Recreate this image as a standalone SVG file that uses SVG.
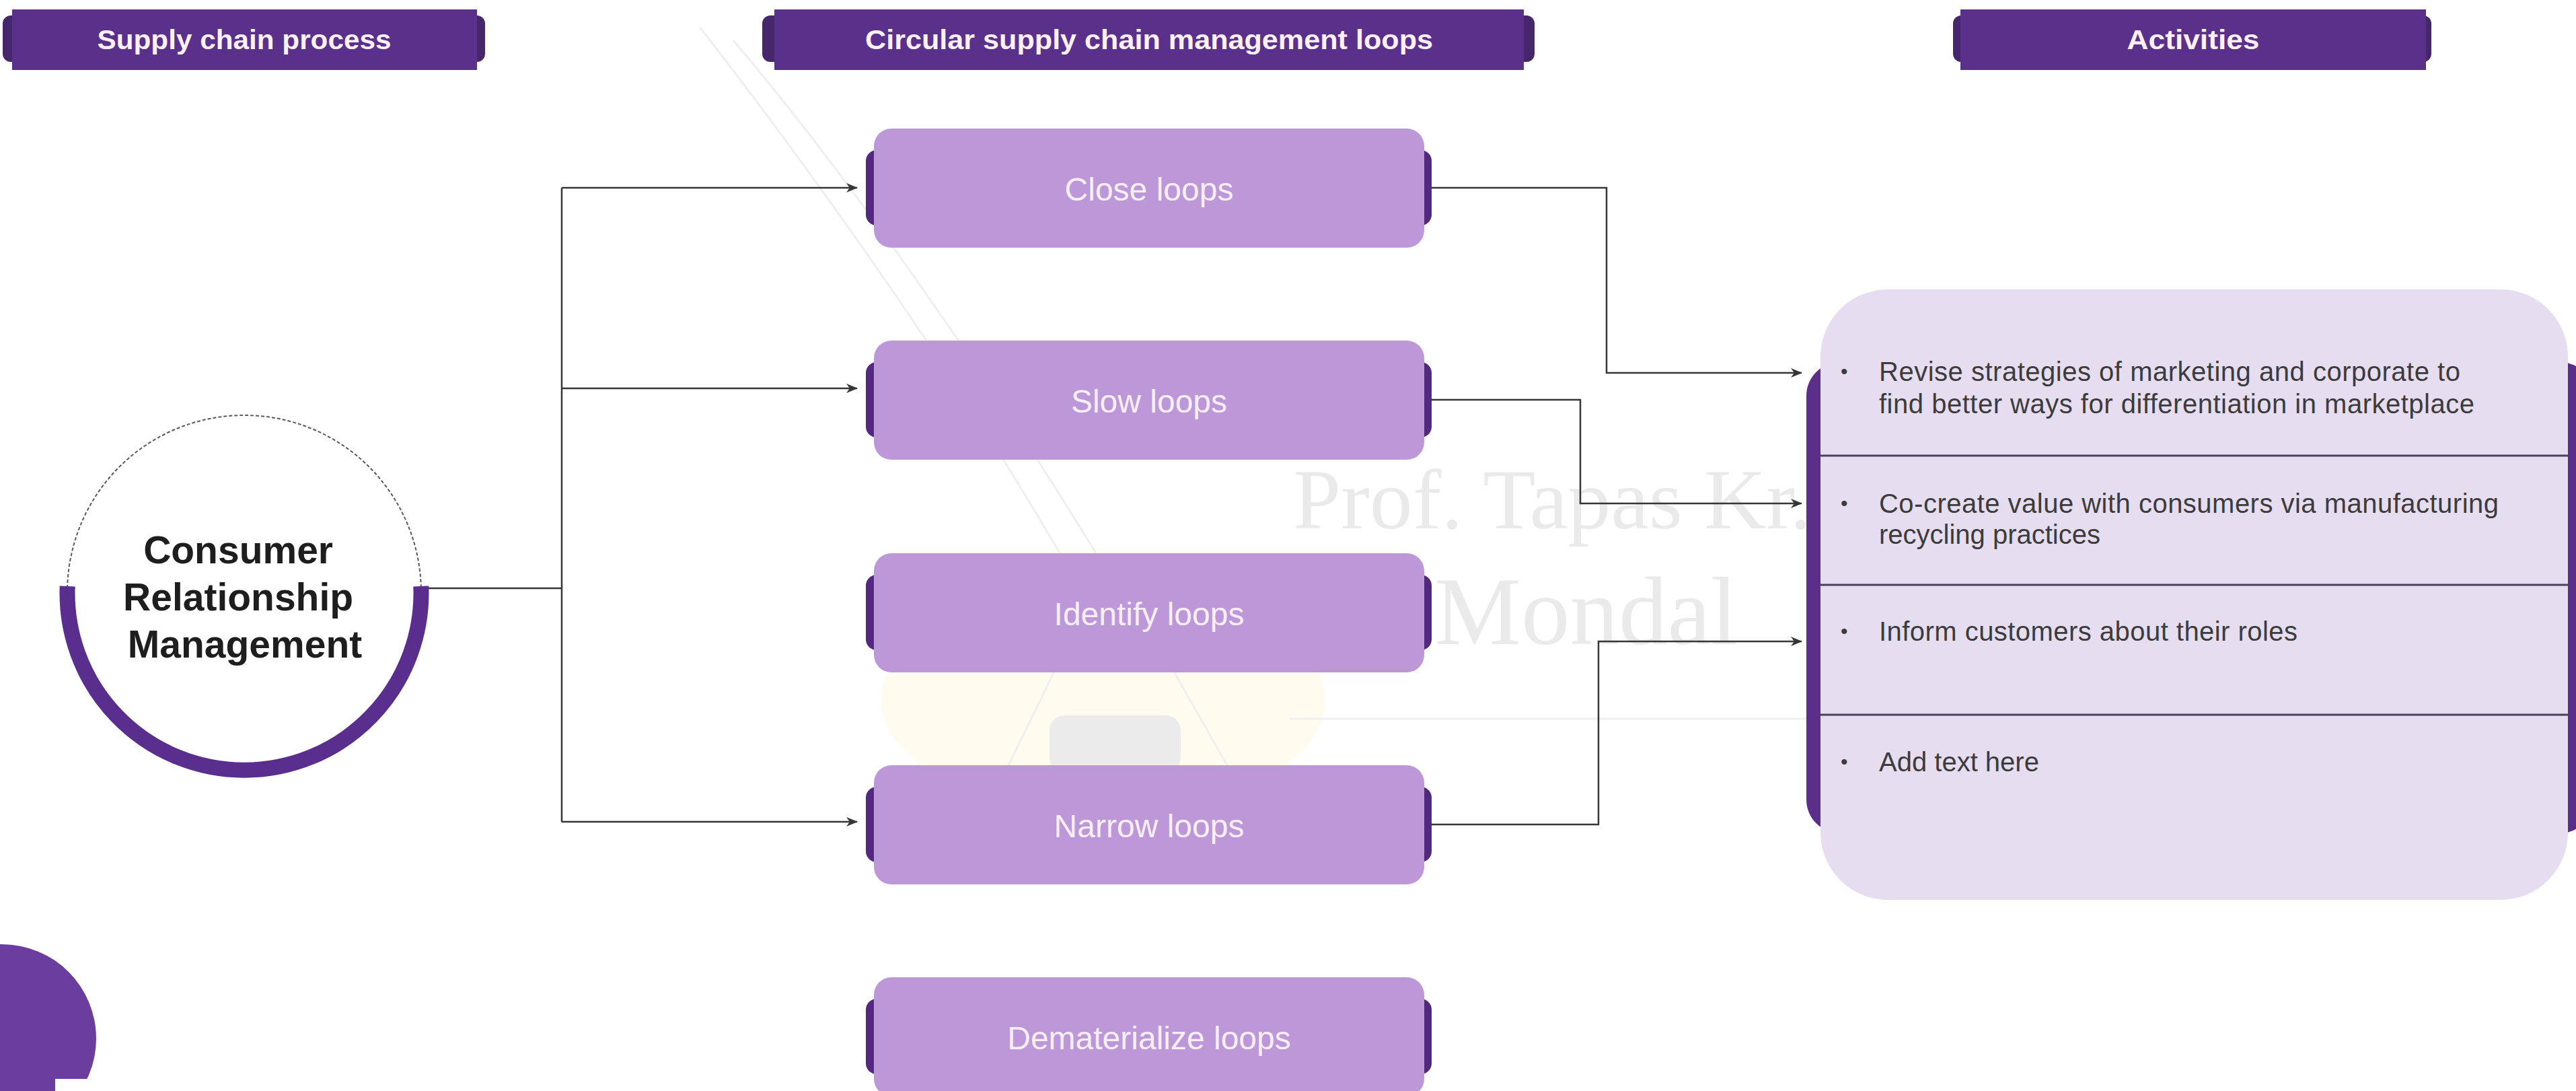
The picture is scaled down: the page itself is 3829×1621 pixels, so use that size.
<svg xmlns="http://www.w3.org/2000/svg" width="3829" height="1621" viewBox="0 0 3829 1621">
<style>
.hcap{fill:#46276c}
.hbar{fill:#59308a}
.htxt{font-family:"Liberation Sans",Arial,sans-serif;font-weight:bold;font-size:40px;fill:#fcf0fb;text-anchor:middle}
.lcap{fill:#53297f}
.lbox{fill:#bc98d9}
.ltxt{font-family:"Liberation Sans",Arial,sans-serif;font-size:48px;fill:#f8eef8;text-anchor:middle}
.atxt{font-family:"Liberation Sans",Arial,sans-serif;font-size:40px;fill:#3c3c3c}
.bul{font-family:"Liberation Sans",Arial,sans-serif;font-size:30px;fill:#3c3c3c}
.conn{fill:none;stroke:#363636;stroke-width:2.5}
.wm{font-family:"Liberation Serif","Times New Roman",serif;fill:#eaeaea}
.wml{fill:none;stroke:#efefef;stroke-width:3}
.div{stroke:#4a3f5e;stroke-width:3}
</style>
<defs>
<marker id="arr" markerUnits="userSpaceOnUse" markerWidth="18" markerHeight="14" refX="16" refY="7" orient="auto">
<path d="M0,0 L17,7 L0,14 L5,7 z" fill="#363636"/>
</marker>
</defs>
<rect x="0" y="0" width="3829" height="1621" fill="#ffffff"/>

<g id="watermark">
<ellipse cx="1640" cy="1040" rx="330" ry="170" fill="#fffbee"/>
<path class="wml" d="M1040,40 C1180,220 1400,520 1580,830"/>
<path class="wml" d="M1090,60 C1260,260 1470,560 1640,840"/>
<path class="wml" d="M1583,965 L1482,1172 Q1660,1200 1844,1172 L1726,965"/>
<rect x="1560" y="1063" width="195" height="85" rx="22" fill="#ebebeb"/>
<line x1="1917" y1="1068" x2="2686" y2="1068" stroke="#f0f0f0" stroke-width="3"/>
<text class="wm" x="1922" y="785" font-size="128">Prof. Tapas Kr.</text>
<text class="wm" x="2132" y="957" font-size="145">Mondal</text>
</g>

<g id="header-supply-chain-process">
<rect class="hcap" x="4" y="23" width="717" height="69" rx="12"/>
<rect class="hbar" x="18" y="14" width="691" height="90"/>
<text class="htxt" x="363" y="73" textLength="437" lengthAdjust="spacingAndGlyphs">Supply chain process</text>
</g>
<g id="header-circular-loops">
<rect class="hcap" x="1133" y="23" width="1148" height="69" rx="12"/>
<rect class="hbar" x="1151" y="14" width="1114" height="90"/>
<text class="htxt" x="1708" y="73" textLength="844" lengthAdjust="spacingAndGlyphs">Circular supply chain management loops</text>
</g>
<g id="header-activities">
<rect class="hcap" x="2903" y="23" width="711" height="69" rx="12"/>
<rect class="hbar" x="2914" y="14" width="692" height="90"/>
<text class="htxt" x="3260" y="73" textLength="197" lengthAdjust="spacingAndGlyphs">Activities</text>
</g>

<g id="connectors">
<path class="conn" d="M637,874 H835"/>
<path class="conn" d="M835,279 V1221"/>
<path class="conn" d="M835,279 H1274" marker-end="url(#arr)"/>
<path class="conn" d="M835,577 H1274" marker-end="url(#arr)"/>
<path class="conn" d="M835,1221 H1274" marker-end="url(#arr)"/>
<path class="conn" d="M2128,279 H2388 V554 H2678" marker-end="url(#arr)"/>
<path class="conn" d="M2128,594 H2349 V748 H2678" marker-end="url(#arr)"/>
<path class="conn" d="M2128,1225 H2376 V953 H2678" marker-end="url(#arr)"/>
</g>

<g id="consumer-relationship-management">
<circle cx="363" cy="880" r="263" fill="#ffffff" stroke="#5a5a5a" stroke-width="2" stroke-dasharray="5,3"/>
<path d="M100.2,871 A263,263 0 1 0 625.8,871" fill="none" stroke="#5a2e8c" stroke-width="23"/>
<text font-family="Liberation Sans, Arial, sans-serif" font-weight="bold" font-size="57" fill="#1e1e1e" text-anchor="middle">
<tspan x="362" y="837">Consumer</tspan>
<tspan x="362" y="907">Relationship</tspan>
<tspan x="364" y="977">Management</tspan>
</text>
</g>

<g id="close-loops">
<rect class="lcap" x="1287" y="223" width="841" height="112" rx="16"/>
<rect class="lbox" x="1299" y="191" width="818" height="177" rx="26"/>
<text class="ltxt" x="1708" y="298">Close loops</text>
</g>
<g id="slow-loops">
<rect class="lcap" x="1287" y="538" width="841" height="112" rx="16"/>
<rect class="lbox" x="1299" y="506" width="818" height="177" rx="26"/>
<text class="ltxt" x="1708" y="613">Slow loops</text>
</g>
<g id="identify-loops">
<rect class="lcap" x="1287" y="854" width="841" height="112" rx="16"/>
<rect class="lbox" x="1299" y="822" width="818" height="177" rx="26"/>
<text class="ltxt" x="1708" y="929">Identify loops</text>
</g>
<g id="narrow-loops">
<rect class="lcap" x="1287" y="1169" width="841" height="112" rx="16"/>
<rect class="lbox" x="1299" y="1137" width="818" height="177" rx="26"/>
<text class="ltxt" x="1708" y="1244">Narrow loops</text>
</g>
<g id="dematerialize-loops">
<rect class="lcap" x="1287" y="1484" width="841" height="112" rx="16"/>
<rect class="lbox" x="1299" y="1452" width="818" height="177" rx="26"/>
<text class="ltxt" x="1708" y="1559">Dematerialize loops</text>
</g>

<g id="activities">
<rect x="2685" y="538" width="1170" height="700" rx="50" fill="#5b2e8a"/>
<rect x="2706" y="430" width="1111" height="907" rx="100" fill="#e6ddf1"/>
<line class="div" x1="2706" y1="677" x2="3817" y2="677"/>
<line class="div" x1="2706" y1="869" x2="3817" y2="869"/>
<line class="div" x1="2706" y1="1062" x2="3817" y2="1062"/>
<text class="bul" x="2736" y="562">•</text>
<text class="atxt" x="2793" y="566" textLength="864" lengthAdjust="spacing">Revise strategies of marketing and corporate to</text>
<text class="atxt" x="2793" y="614" textLength="885" lengthAdjust="spacing">find better ways for differentiation in marketplace</text>
<text class="bul" x="2736" y="758">•</text>
<text class="atxt" x="2793" y="762" textLength="921" lengthAdjust="spacing">Co-create value with consumers via manufacturing</text>
<text class="atxt" x="2793" y="808">recycling practices</text>
<text class="bul" x="2736" y="948">•</text>
<text class="atxt" x="2793" y="952" textLength="622" lengthAdjust="spacing">Inform customers about their roles</text>
<text class="bul" x="2736" y="1142">•</text>
<text class="atxt" x="2793" y="1146">Add text here</text>
</g>

<g id="corner-decoration">
<circle cx="3" cy="1543" r="140" fill="#6a3d9e"/>
<rect x="82" y="1603" width="80" height="18" fill="#ffffff"/>
</g>
</svg>
